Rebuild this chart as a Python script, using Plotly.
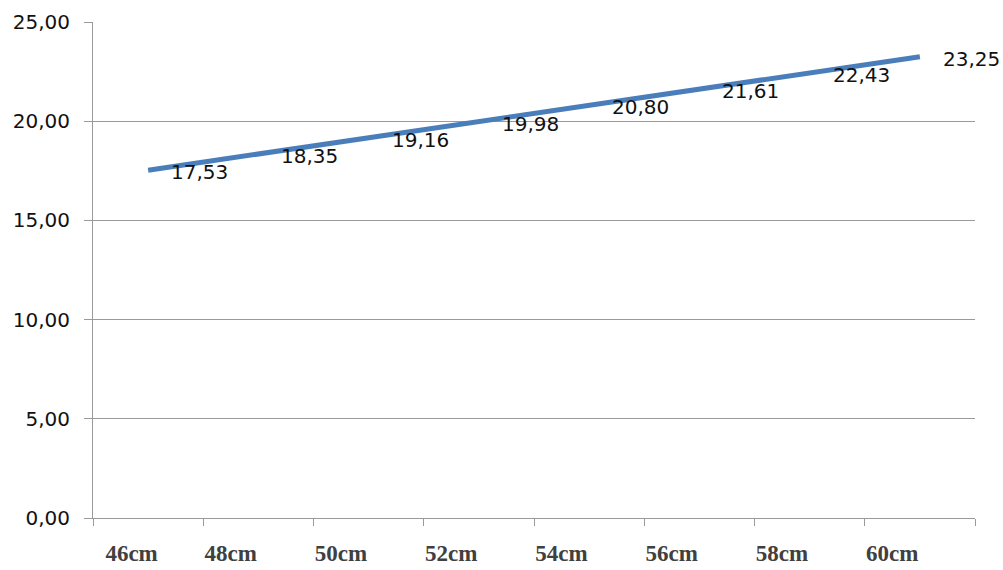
import plotly.graph_objects as go

# Chart data
sizes = ["46cm", "48cm", "50cm", "52cm", "54cm", "56cm", "58cm", "60cm"]
values = [17.53, 18.35, 19.16, 19.98, 20.80, 21.61, 22.43, 23.25]
y_ticks = [0, 5, 10, 15, 20, 25]

n = len(sizes)
xs = list(range(n))
# category boundaries (tick marks) and label centres
boundaries = [i - 0.5 for i in range(n + 1)]
label_pos = [-0.15] + [i - 0.25 for i in range(1, n)]

num_font = dict(family="DejaVu Sans", size=20, color="#111111")
grid_col = "#9a9a9a"

fig = go.Figure()
fig.add_trace(go.Scatter(
    x=xs, y=values, mode="lines",
    line=dict(color="#4a7ebb", width=5),
    hoverinfo="skip", showlegend=False,
))
# invisible trace to activate the label axis
fig.add_trace(go.Scatter(
    x=xs, y=values, mode="none", xaxis="x2",
    hoverinfo="skip", showlegend=False,
))

for x, v in zip(xs, values):
    fig.add_annotation(
        x=x, y=v, text=f"{v:.2f}".replace(".", ","),
        showarrow=False, xanchor="left", yanchor="middle",
        xshift=21, yshift=-2, font=num_font,
    )

fig.update_layout(
    width=1003, height=570,
    margin=dict(l=93, r=28, t=22, b=52, autoexpand=False),
    paper_bgcolor="white", plot_bgcolor="white",
    separators=", ",
    xaxis=dict(
        range=[-0.5, n - 0.5], tickvals=boundaries, ticks="outside",
        ticklen=7, tickcolor=grid_col, showticklabels=False,
        showgrid=False, zeroline=False, showline=True, linecolor=grid_col,
        linewidth=1, automargin=False,
    ),
    xaxis2=dict(
        range=[-0.5, n - 0.5], overlaying="x", side="bottom",
        tickvals=label_pos, ticktext=sizes, ticks="",
        showgrid=False, zeroline=False, showline=False, automargin=False,
        tickfont=dict(family="Liberation Serif", size=23, color="#404040",
                      weight="bold"),
        ticklabelstandoff=19,
    ),
    yaxis=dict(
        range=[0, 25], tickvals=y_ticks, tickformat=".2f",
        ticks="outside", ticklen=8, tickcolor=grid_col,
        showgrid=True, gridcolor=grid_col, gridwidth=1, automargin=False,
        zeroline=False, showline=True, linecolor=grid_col, linewidth=1,
        tickfont=num_font, ticklabelstandoff=10,
    ),
)

fig.write_html("out.html")
